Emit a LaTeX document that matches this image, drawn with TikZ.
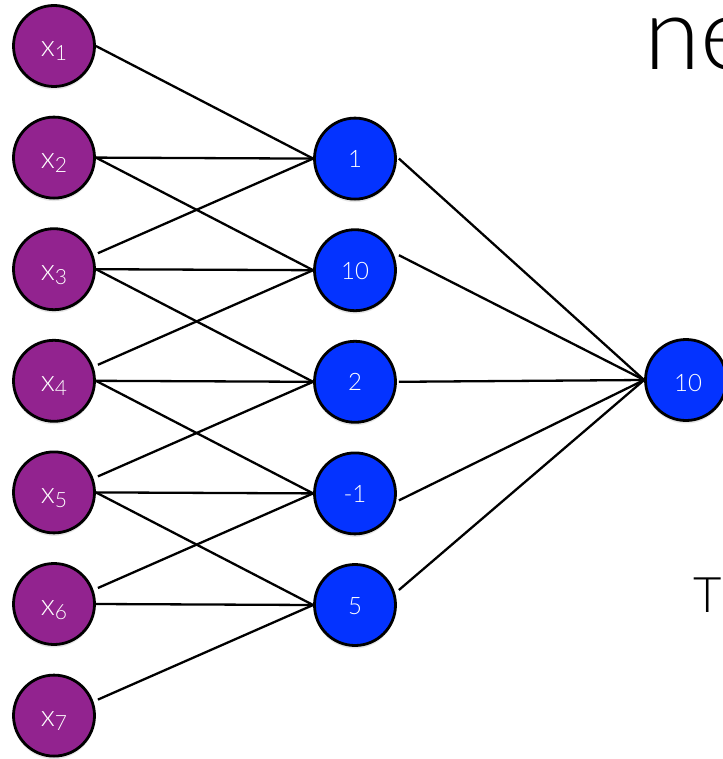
\documentclass[tikz,border=0pt]{standalone}
\usepackage{fontspec}
\setmainfont{Lato}[UprightFont=* Light]
\usetikzlibrary{shadows,backgrounds}
\definecolor{inputpurple}{RGB}{146,35,143}
\definecolor{unitblue}{RGB}{4,51,255}
\begin{document}
\begin{tikzpicture}[x=1pt,y=-1pt,
  unit/.style={circle, draw=black, line width=2.8pt, minimum size=81pt, inner sep=0pt,
    drop shadow={shadow xshift=0pt, shadow yshift=-3pt, opacity=0.2}},
  inputunit/.style={unit, fill=inputpurple},
  hiddenunit/.style={unit, fill=unitblue},
  unitlabel/.style={anchor=base, text=white, inner sep=0pt, font=\fontsize{24}{24}\selectfont},
  inputlabel/.style={unitlabel, font=\fontsize{30}{30}\selectfont},
  wire/.style={line width=2.3pt, draw=black},
  headline/.style={anchor=base west, inner sep=0pt, font=\fontsize{102}{102}\selectfont},
  sidetext/.style={anchor=base west, inner sep=0pt, font=\fontsize{49}{49}\selectfont},
]
\useasboundingbox (0,0) rectangle (722,759);

% input layer x_1 ... x_7
\foreach \i in {1,...,7} {
  \node[inputunit] (x\i) at (54, {46+111.6*(\i-1)}) {};
  \node[inputlabel] (x\i lab) at ([yshift=-11pt]x\i.center)
    {x\raisebox{-4pt}{\fontsize{21}{21}\selectfont\i}};
}

% hidden layer, each unit sees three neighbouring inputs
\foreach \v [count=\j] in {1,10,2,-1,5} {
  \node[hiddenunit] (h\j) at (355, {47+111.6*\j}) {};
  \node[unitlabel] (h\j lab) at ([yshift=-9pt]h\j.center) {\v};
}

% output unit
\node[hiddenunit] (out) at (686,380) {};
\node[unitlabel] (outlab) at ([xshift=2pt,yshift=-11pt]out.center) {10};

% connections
\begin{scope}[on background layer]
  \foreach \j in {1,...,5} {
    \pgfmathtruncatemacro\b{\j+1}
    \pgfmathtruncatemacro\c{\j+2}
    \draw[wire] (x\j.east) -- (h\j.west);
    \draw[wire] (x\b.east) -- (h\j.west);
    \draw[wire] ([shift={(2pt,16pt)}]x\c.east) -- (h\j.west);
  }
  \draw[wire] ([xshift=2pt]h1.east) -- (out.west);
  \draw[wire] ([shift={(2pt,15pt)}]h2.east) -- (out.west);
  \draw[wire] ([xshift=2pt]h3.east) -- (out.west);
  \draw[wire] ([shift={(2pt,-7pt)}]h4.east) -- (out.west);
  \draw[wire] ([shift={(2pt,15pt)}]h5.east) -- (out.west);
\end{scope}

% text running in from the right
\node[headline] (title) at (644,70) {ne};
\node[sidetext] (side) at (693,612) {T};
\end{tikzpicture}
\end{document}
